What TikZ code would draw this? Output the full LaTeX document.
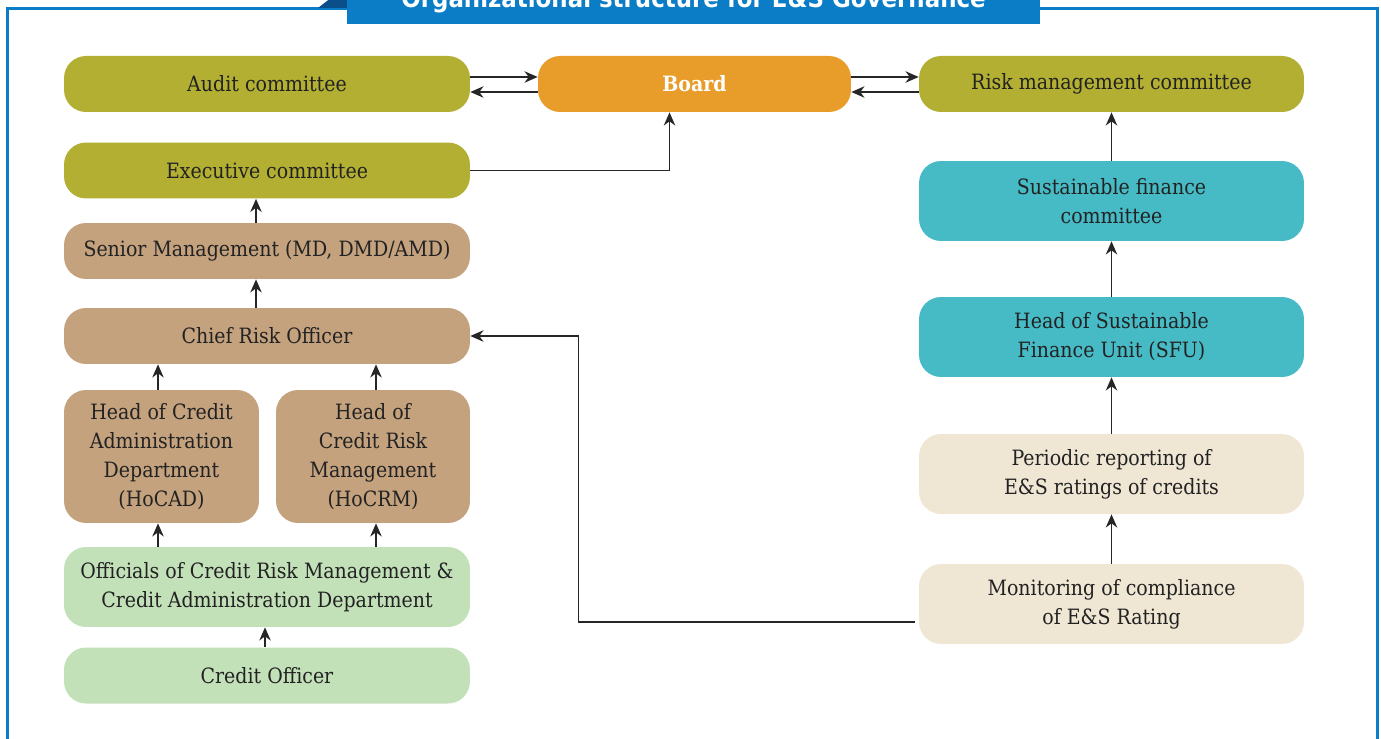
\documentclass[tikz,border=0pt]{standalone}
\usepackage{fontspec}
\setmainfont{DejaVu Serif Condensed}
\newfontfamily\titlefont{DejaVu Sans Condensed}
\usetikzlibrary{arrows.meta}

\definecolor{framebl}{HTML}{0A7DC6}
\definecolor{darkbl}{HTML}{0B4F8A}
\definecolor{olive}{HTML}{B2AF33}
\definecolor{boardor}{HTML}{E89C2A}
\definecolor{tanbx}{HTML}{C4A27E}
\definecolor{lightgr}{HTML}{C3E1B9}
\definecolor{tealbx}{HTML}{46BBC6}
\definecolor{creambx}{HTML}{EFE6D4}
\definecolor{inkgr}{HTML}{222222}

\tikzset{
  box/.style={rounded corners=0.44cm, align=center, text=inkgr,
    font=\fontsize{12}{16.4}\selectfont, inner sep=0pt},
  widebox/.style={box, minimum width=8.12cm, minimum height=1.12cm},
  tallbox/.style={box, minimum width=7.7cm, minimum height=1.6cm},
  arr/.style={-{Stealth[length=7.5pt,width=6.5pt,inset=2.4pt]}, line width=0.9pt, black!85}
}

\begin{document}
\begin{tikzpicture}[x=0.02cm, y=-0.02cm]
    \useasboundingbox (0,0) rectangle (1381,739);

    % Frame and title
    \draw[framebl, line width=1.7pt] (7.5,780) -- (7.5,8.5) -- (1377,8.5) -- (1377,780);
    \fill[darkbl] (318,8) -- (336,-6) -- (347,-6) -- (347,8) -- cycle;
    \fill[framebl] (347,-30) rectangle (1040,24);
    \node[anchor=base, text=white, font=\titlefont\bfseries\fontsize{14.5}{16}\selectfont] (title) at (693.5,7.5) {Organizational structure for E\&S Governance};

    % Top row
    \node[widebox, fill=olive] (audit) at (267,84) {Audit committee};
    \node[box, fill=boardor, minimum width=6.26cm, minimum height=1.12cm, text=white, font=\bfseries\fontsize{12}{16.4}\selectfont] (board) at (694.5,84) {Board};
    \node[box, fill=olive, minimum width=7.7cm, minimum height=1.12cm] (risk) at (1111.5,84) {Risk management committee};

    % Left column
    \node[widebox, fill=olive] (exec) at (267,170.5) {Executive committee};
    \node[widebox, fill=tanbx] (senior) at (267,251) {Senior Management (MD, DMD/AMD)};
    \node[widebox, fill=tanbx] (chief) at (267,336) {Chief Risk Officer};
    \node[box, fill=tanbx, minimum width=3.9cm, minimum height=2.66cm] (hocad) at (161.5,456.5) {Head of Credit\\Administration\\Department\\(HoCAD)};
    \node[box, fill=tanbx, minimum width=3.88cm, minimum height=2.66cm] (hocrm) at (373,456.5) {Head of\\Credit Risk\\Management\\(HoCRM)};
    \node[widebox, fill=lightgr, minimum height=1.6cm] (officials) at (267,587) {Officials of Credit Risk Management \&\\Credit Administration Department};
    \node[widebox, fill=lightgr] (credit) at (267,675.5) {Credit Officer};

    % Right column
    \node[tallbox, fill=tealbx] (sfc) at (1111.5,201) {Sustainable finance\\committee};
    \node[tallbox, fill=tealbx] (sfu) at (1111.5,337) {Head of Sustainable\\Finance Unit (SFU)};
    \node[tallbox, fill=creambx] (periodic) at (1111.5,474) {Periodic reporting of\\E\&S ratings of credits};
    \node[tallbox, fill=creambx] (monitor) at (1111.5,604) {Monitoring of compliance\\of E\&S Rating};

    % Board links
    \draw[arr] ([yshift=0.14cm]audit.east) -- ([yshift=0.14cm]board.west);
    \draw[arr] ([yshift=-0.16cm]board.west) -- ([yshift=-0.16cm]audit.east);
    \draw[arr] ([yshift=0.14cm]board.east) -- ([yshift=0.14cm]risk.west);
    \draw[arr] ([yshift=-0.16cm]risk.west) -- ([yshift=-0.16cm]board.east);
    \draw[arr] (exec.east) -| ([xshift=-0.5cm]board.south);

    % Left column links
    \draw[arr] ([xshift=-0.22cm]senior.north) -- ([xshift=-0.22cm]exec.south);
    \draw[arr] ([xshift=-0.22cm]chief.north) -- ([xshift=-0.22cm]senior.south);
    \draw[arr] ([xshift=-0.07cm]hocad.north) -- ([xshift=-0.07cm]hocad.north |- chief.south);
    \draw[arr] ([xshift=0.06cm]hocrm.north) -- ([xshift=0.06cm]hocrm.north |- chief.south);
    \draw[arr] ([xshift=-0.07cm]hocad.south |- officials.north) -- ([xshift=-0.07cm]hocad.south);
    \draw[arr] ([xshift=0.06cm]hocrm.south |- officials.north) -- ([xshift=0.06cm]hocrm.south);
    \draw[arr] ([xshift=-0.04cm]credit.north) -- ([xshift=-0.04cm]officials.south);

    % Right column links
    \draw[arr] (sfc) -- (risk);
    \draw[arr] (sfu) -- (sfc);
    \draw[arr] (periodic) -- (sfu);
    \draw[arr] (monitor) -- (periodic);
    \draw[arr] ([xshift=-0.08cm,yshift=-0.36cm]monitor.west) -| ([xshift=2.16cm]chief.east) -- (chief.east);
\end{tikzpicture}
\end{document}
